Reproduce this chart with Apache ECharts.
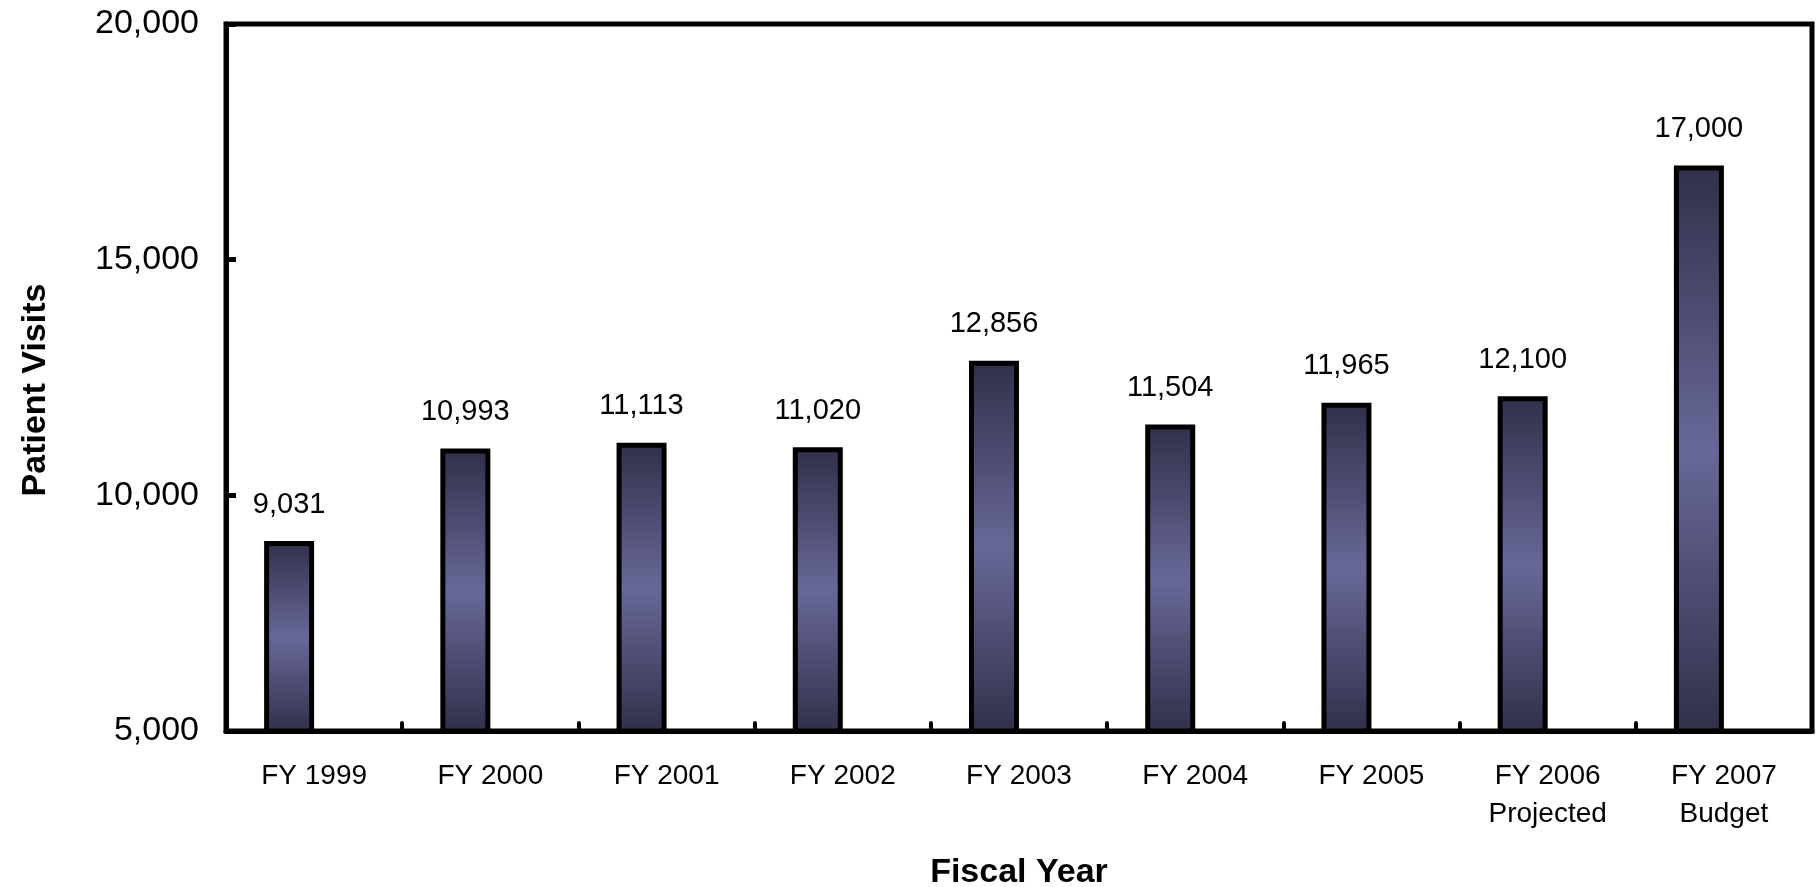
<!DOCTYPE html>
<html>
<head>
<meta charset="utf-8">
<title>Patient Visits by Fiscal Year</title>
<script src="https://cdn.jsdelivr.net/npm/echarts@6/dist/echarts.min.js"></script>
<style>
  html, body { margin: 0; padding: 0; background: #ffffff; }
  #chart { width: 1818px; height: 887px; }
</style>
</head>
<body>
<div id="chart"></div>
<script>
// Fiscal years (second line marks projected / budget figures)
const categories = [
  'FY 1999', 'FY 2000', 'FY 2001', 'FY 2002', 'FY 2003',
  'FY 2004', 'FY 2005', 'FY 2006\nProjected', 'FY 2007\nBudget'
];
// Patient visits per fiscal year
const patientVisits = [9031, 10993, 11113, 11020, 12856, 11504, 11965, 12100, 17000];
// Companion series kept empty, so each bar sits left of its category centre
const placeholder = categories.map(() => null);
// Value axis range
const yMin = 5000;
const yMax = 20000;
const yStep = 5000;

const FONT = '"Liberation Sans", Arial, Helvetica, sans-serif';
const fmt = v => Number(v).toLocaleString('en-US');

const chart = echarts.init(document.getElementById('chart'), null, { renderer: 'canvas' });

chart.setOption({
  backgroundColor: '#ffffff',
  animation: false,
  grid: {
    left: 226, right: 6, top: 24, bottom: 156,
    containLabel: false,
    outerBoundsMode: 'none',
    show: true, borderColor: '#000000', borderWidth: 5, backgroundColor: 'transparent'
  },
  xAxis: {
    type: 'category',
    data: categories,
    boundaryGap: true,
    name: 'Fiscal Year',
    nameLocation: 'middle',
    nameGap: 125,
    nameTextStyle: { fontFamily: FONT, fontSize: 34, fontWeight: 'bold', color: '#000' },
    axisLine: { lineStyle: { color: '#000', width: 5 } },
    axisTick: { show: true, inside: true, length: 8, lineStyle: { color: '#000', width: 4, cap: 'round' } },
    axisLabel: {
      fontFamily: FONT, fontSize: 28, color: '#000', margin: 26, lineHeight: 38,
      interval: 0
    },
    splitLine: { show: false }
  },
  yAxis: {
    type: 'value',
    min: yMin, max: yMax, interval: yStep,
    name: 'Patient Visits',
    nameLocation: 'middle',
    nameGap: 173,
    nameRotate: 90,
    nameTextStyle: {
      fontFamily: FONT, fontSize: 34, fontWeight: 'bold', color: '#000',
      padding: [0, 25, 0, 0]
    },
    axisLine: { show: true, lineStyle: { color: '#000', width: 5 } },
    axisTick: { show: true, inside: true, length: 10, lineStyle: { color: '#000', width: 5 } },
    axisLabel: { fontFamily: FONT, fontSize: 34, color: '#000', margin: 27, formatter: fmt },
    splitLine: { show: false }
  },
  series: [
    {
      name: 'Patient Visits',
      type: 'bar',
      data: patientVisits,
      barWidth: 50,
      barGap: '0%',
      itemStyle: {
        borderColor: '#000000',
        borderWidth: 5,
        color: {
          type: 'linear', x: 0, y: 0, x2: 0, y2: 1,
          colorStops: [
            { offset: 0, color: '#30304a' },
            { offset: 0.5, color: '#686898' },
            { offset: 1, color: '#30304a' }
          ]
        }
      },
      label: {
        show: true,
        position: 'top',
        distance: 22,
        fontFamily: FONT,
        fontSize: 29,
        color: '#000',
        formatter: p => fmt(p.value)
      }
    },
    {
      name: 'Spacer',
      type: 'bar',
      data: placeholder,
      barWidth: 50,
      barGap: '0%',
      silent: true
    }
  ]
});
</script>
</body>
</html>
